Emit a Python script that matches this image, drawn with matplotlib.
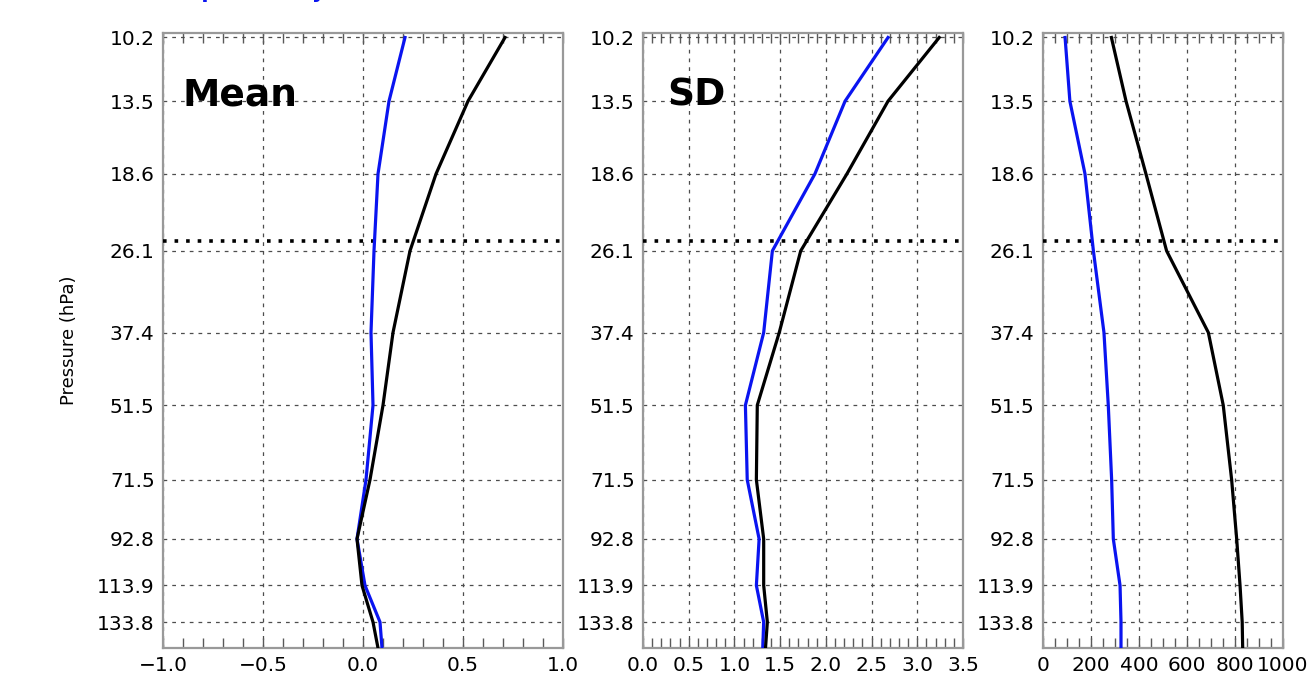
import numpy as np
import matplotlib
matplotlib.use('Agg')
import matplotlib.pyplot as plt
from matplotlib.ticker import MultipleLocator, FixedLocator, NullLocator, FuncFormatter

# Уровни давления (гПа)
levels = [10.2, 13.5, 18.6, 26.1, 37.4, 51.5, 71.5, 92.8, 113.9, 133.8, 150.0]
level_labels = ['10.2', '13.5', '18.6', '26.1', '37.4', '51.5', '71.5', '92.8', '113.9', '133.8']

# Среднее
mean_blue = [0.21, 0.13, 0.075, 0.055, 0.04, 0.05, 0.015, -0.03, 0.01, 0.085, 0.095]
mean_black = [0.71, 0.525, 0.365, 0.235, 0.15, 0.10, 0.035, -0.03, -0.005, 0.05, 0.075]

# Стандартное отклонение
sd_blue = [2.68, 2.21, 1.88, 1.415, 1.32, 1.12, 1.14, 1.27, 1.24, 1.32, 1.31]
sd_black = [3.24, 2.68, 2.23, 1.725, 1.49, 1.25, 1.24, 1.32, 1.32, 1.36, 1.34]

# Третья панель
n_blue = [92, 112, 175, 210, 254, 272, 286, 293, 321, 325, 325]
n_black = [285, 346, 429, 515, 689, 751, 786, 807, 821, 830, 832]

line_level = 25.0


def fmt1(v, pos):
    return ('%.1f' % v).replace('-', '\u2212')


def fmt0(v, pos):
    return '%d' % round(v)


fig = plt.figure(figsize=(13.07, 6.88), dpi=100)

bottom = 40 / 688
height = 615 / 688
ax1 = fig.add_axes([163 / 1307, bottom, 400 / 1307, height])
ax2 = fig.add_axes([643 / 1307, bottom, 320 / 1307, height])
ax3 = fig.add_axes([1043 / 1307, bottom, 240 / 1307, height])

panels = [
    (ax1, mean_blue, mean_black, (-1.0, 1.0), 0.5, 0.1, fmt1),
    (ax2, sd_blue, sd_black, (0.0, 3.5), 0.5, 0.1, fmt1),
    (ax3, n_blue, n_black, (0, 1000), 200, 50, fmt0),
]

for ax, blue, black, xlim, major, minor, fmt in panels:
    ax.plot(blue, levels, color='#0a14f0', lw=2.3, zorder=4)
    ax.plot(black, levels, color='black', lw=2.3, zorder=4)
    ax.axhline(line_level, color='black', lw=2.6, ls=(0, (1, 2.2)), zorder=3)

    ax.set_yscale('log')
    ax.set_ylim(150, 10)
    ax.yaxis.set_major_locator(FixedLocator(levels[:-1]))
    ax.yaxis.set_minor_locator(NullLocator())
    ax.set_yticklabels(level_labels)

    ax.set_xlim(*xlim)
    ax.xaxis.set_major_locator(MultipleLocator(major))
    ax.xaxis.set_minor_locator(MultipleLocator(minor))
    ax.xaxis.set_major_formatter(FuncFormatter(fmt))

    ax.grid(True, which='major', color='0.3', lw=0.9, ls=(0, (3, 4)))
    ax.tick_params(axis='x', which='both', direction='in', top=True, bottom=True,
                   length=7, width=1.0, color='0.35', labelsize=14.5, pad=6)
    ax.tick_params(axis='y', which='both', length=0, labelsize=14.5, pad=6)
    for s in ax.spines.values():
        s.set_color('0.6')
        s.set_linewidth(1.6)

ax1.set_ylabel('Pressure (hPa)', fontsize=13, labelpad=14)

ax1.text(183 / 1307, 1 - 106 / 688, 'Mean', transform=fig.transFigure,
         fontsize=27, fontweight='bold', ha='left', va='baseline')
ax2.text(667 / 1307, 1 - 105 / 688, 'SD', transform=fig.transFigure,
         fontsize=27, fontweight='bold', ha='left', va='baseline')

# Заголовок обрезан сверху, видны только подстрочные элементы
fig.text(150 / 1307, 1.0 + 2 / 688, 'Comparison by month', color='#0a14f0',
         fontsize=15, fontweight='bold', ha='left', va='baseline')

plt.savefig('out.png', dpi=100)
